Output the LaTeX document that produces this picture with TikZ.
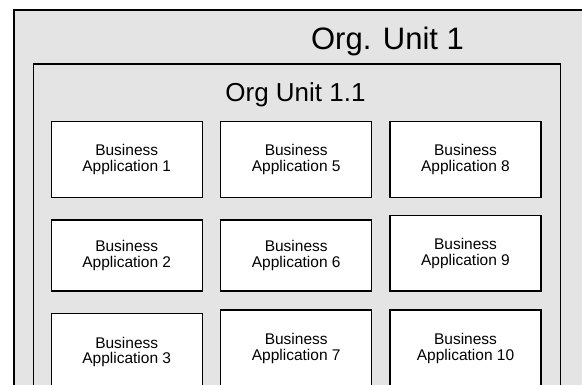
\documentclass[tikz,border=0pt]{standalone}
\usepackage{fontspec}
\setmainfont{Liberation Sans}
\definecolor{unitgray}{RGB}{228,228,228}
\begin{document}
\begin{tikzpicture}[x=1pt,y=-1pt,
  unit/.style={draw=black, line width=1.4pt, fill=unitgray, anchor=north west, inner sep=0pt},
  app/.style={draw=black, line width=1.4pt, fill=white, inner sep=0pt, minimum width=151pt, align=center, font=\fontsize{15.5}{15.5}\selectfont},
  title/.style={anchor=base, inner sep=0pt}]
\useasboundingbox (0,0) rectangle (582,385);
\clip (0,0) rectangle (582,385);
\node[unit, minimum width=620pt, minimum height=420pt] (ou1) at (13.3,9.3) {};
\node[unit, minimum width=527pt, minimum height=400pt] (ou11) at (32.7,63.3) {};
\node[title, font=\fontsize{31}{31}\selectfont] (t1) at (387.5,50) {Org. Unit 1};
\node[title, font=\fontsize{26}{26}\selectfont] (t11) at (295.5,101.7) {Org Unit 1.1};
% row 1
\node[app, minimum height=75.6pt] (a1) at (126.7,159.5) {Business\\Application 1};
\node[app, minimum height=75.6pt] (a5) at (296.2,159.5) {Business\\Application 5};
\node[app, minimum height=75.6pt] (a8) at (465.5,159.5) {Business\\Application 8};
% row 2
\node[app, minimum height=71pt] (a2) at (126.7,255.5) {Business\\Application 2};
\node[app, minimum height=71pt] (a6) at (296.2,255.5) {Business\\Application 6};
\node[app, minimum height=75.3pt] (a9) at (465.5,253.4) {Business\\Application 9};
% row 3
\node[app, minimum height=77pt] (a3) at (126.7,351.8) {Business\\Application 3};
\node[app, minimum height=77pt] (a7) at (296.2,348.5) {Business\\Application 7};
\node[app, minimum height=77pt] (a10) at (465.5,348.5) {Business\\Application 10};
\end{tikzpicture}
\end{document}
